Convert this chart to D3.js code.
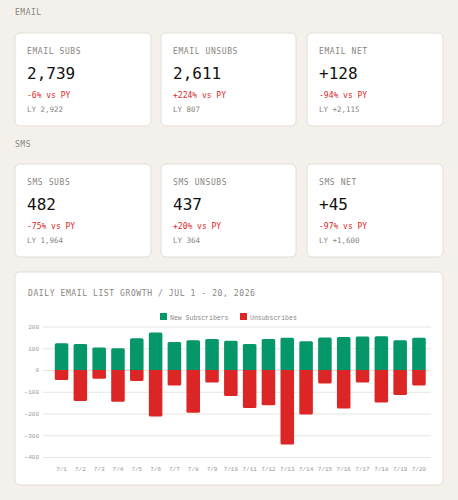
<!DOCTYPE html><html><head><meta charset="utf-8">
<script src="https://cdn.jsdelivr.net/npm/d3@7/dist/d3.min.js"></script>
<style>
body{margin:0;background:#f4f1ec;width:458px;height:500px;overflow:hidden;font-family:"DejaVu Sans Mono",monospace}
</style></head><body><svg id="c" width="458" height="500"></svg>
<script>
const dates=["7/1","7/2","7/3","7/4","7/5","7/6","7/7","7/8","7/9","7/10","7/11","7/12","7/13","7/14","7/15","7/16","7/17","7/18","7/19","7/20"];
const newSubs=[123,120,103,100,146,172,129,137,142,135,120,143,148,132,149,152,154,155,137,148];
const unsubs=[46,143,40,146,51,214,71,197,58,120,175,162,342,205,62,177,57,149,115,71];
const yTicks=[200,100,0,-100,-200,-300,-400];
const emailCards=[["EMAIL SUBS","2,739","-6% vs PY","LY 2,922"],["EMAIL UNSUBS","2,611","+224% vs PY","LY 807"],["EMAIL NET","+128","-94% vs PY","LY +2,115"]];
const smsCards=[["SMS SUBS","482","-75% vs PY","LY 1,964"],["SMS UNSUBS","437","+20% vs PY","LY 364"],["SMS NET","+45","-97% vs PY","LY +1,600"]];
const svg=d3.select("#c");
const mono='"DejaVu Sans Mono",monospace';
function section(label,y){svg.append("text").attr("x",15).attr("y",y).attr("font-size",8).attr("fill","#8a8580").attr("font-family",mono).attr("letter-spacing",0.5).text(label);}
const cx=[15,161,307],cw=[136,135,136];
function cards(data,y){data.forEach((d,i)=>{const g=svg.append("g").attr("transform",`translate(${cx[i]},${y})`);
g.append("rect").attr("width",cw[i]).attr("height",93).attr("rx",5).attr("fill","#fff").attr("stroke","#e2ddd6");
g.append("text").attr("x",12).attr("y",21).attr("font-size",8).attr("fill","#8a8580").attr("letter-spacing",0.6).attr("font-family",mono).text(d[0]);
g.append("text").attr("x",12).attr("y",46).attr("font-size",16).attr("fill","#111").attr("font-family",mono).text(d[1]);
g.append("text").attr("x",12).attr("y",65).attr("font-size",8).attr("fill","#dc2626").attr("font-family",mono).text(d[2]);
g.append("text").attr("x",12).attr("y",79).attr("font-size",7.5).attr("fill","#8a8580").attr("font-family",mono).text(d[3]);});}
section("EMAIL",15);cards(emailCards,33);
section("SMS",147);cards(smsCards,164);
svg.append("rect").attr("x",15).attr("y",272).attr("width",428).attr("height",213).attr("rx",5).attr("fill","#fff").attr("stroke","#e2ddd6");
svg.append("text").attr("x",28).attr("y",296).attr("font-size",8).attr("fill","#8a8580").attr("letter-spacing",0.6).attr("font-family",mono).text("DAILY EMAIL LIST GROWTH / JUL 1 - 20, 2026");
const cm='"Liberation Mono","Courier New",monospace';
const x=d3.scaleBand().domain(dates).range([49.5,431]).padding(0.28);
const y=d3.scaleLinear().domain([-400,200]).range([457,326.5]);
const gy=svg.append("g").attr("transform","translate(43,0)").call(d3.axisLeft(y).tickValues(yTicks).tickSize(-388).tickPadding(4));
gy.select(".domain").remove();gy.selectAll("line").attr("stroke","#e8e5e0");
gy.selectAll("text").attr("font-size",6).attr("fill","#999").attr("font-family",cm);
svg.append("g").selectAll("path").data(dates).join("path").attr("fill","#059669")
 .attr("d",(d,i)=>{const x0=x(d),w=x.bandwidth(),t=y(newSubs[i]),b=y(0),r=1.5;return `M${x0},${b}V${t+r}Q${x0},${t} ${x0+r},${t}H${x0+w-r}Q${x0+w},${t} ${x0+w},${t+r}V${b}Z`;});
svg.append("g").selectAll("path").data(dates).join("path").attr("fill","#dc2626")
 .attr("d",(d,i)=>{const x0=x(d),w=x.bandwidth(),t=y(0),b=y(-unsubs[i]),r=1.5;return `M${x0},${t}V${b-r}Q${x0},${b} ${x0+r},${b}H${x0+w-r}Q${x0+w},${b} ${x0+w},${b-r}V${t}Z`;});
const gx=svg.append("g").attr("transform","translate(0,461)").call(d3.axisBottom(x).tickSize(0).tickPadding(6));
gx.select(".domain").remove();gx.selectAll("text").attr("font-size",6).attr("fill","#999").attr("font-family",cm);
const leg=[["New Subscribers","#059669",160],["Unsubscribes","#dc2626",240]];
leg.forEach(l=>{svg.append("rect").attr("x",l[2]).attr("y",313).attr("width",7).attr("height",7).attr("fill",l[1]);
svg.append("text").attr("x",l[2]+10).attr("y",319.5).attr("font-size",6.5).attr("fill","#888").attr("font-family",cm).text(l[0]);});
</script></body></html>
